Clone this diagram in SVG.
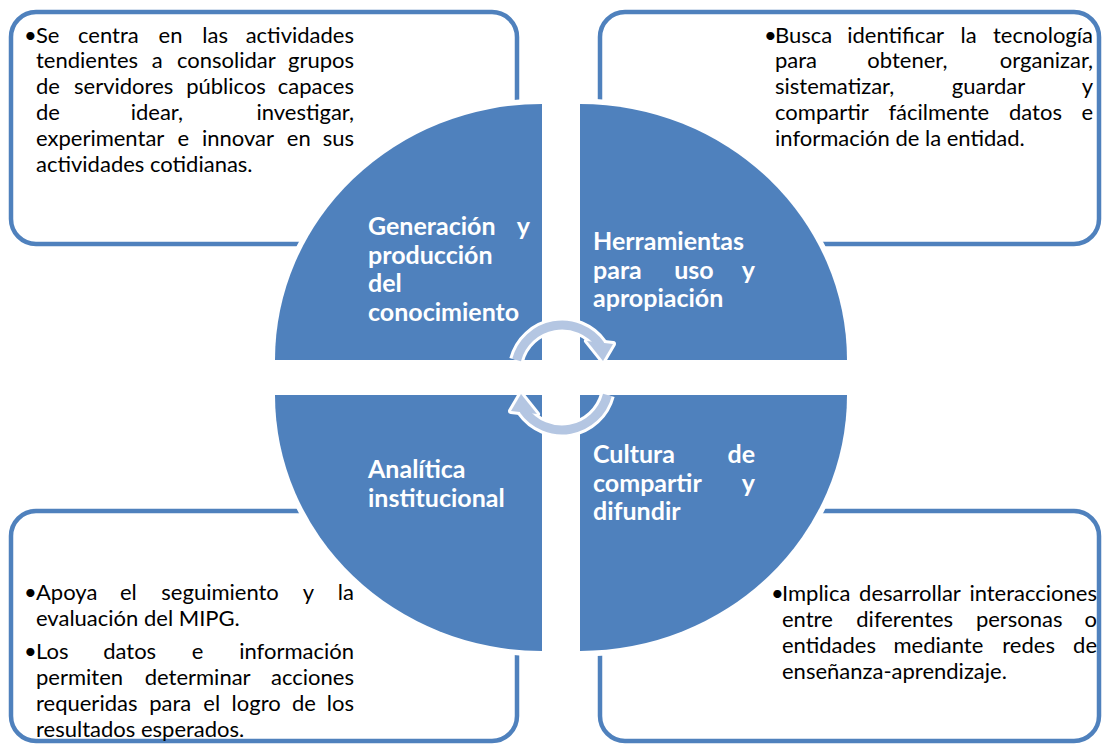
<svg xmlns="http://www.w3.org/2000/svg" width="1102" height="744" viewBox="0 0 1102 744">
  <style>
    .box { fill: #ffffff; stroke: #4F81BD; stroke-width: 4.5; }
    .quad { fill: #4F81BD; stroke: #ffffff; stroke-width: 11; paint-order: stroke; stroke-linejoin: miter; }
    .body { font-family: "Lato", "Carlito", "Liberation Sans", sans-serif; font-size: 22px; fill: #000000; }
    .title { font-family: "Lato", "Carlito", "Liberation Sans", sans-serif; font-size: 25px; font-weight: bold; fill: #ffffff; }
    .e { text-anchor: end; }
    .m { text-anchor: middle; }
    .ringOut { fill: none; stroke: #ffffff; stroke-width: 15; }
    .ringIn { fill: none; stroke: #B4C6E2; stroke-width: 9; }
    .headOut { fill: #ffffff; stroke: #ffffff; stroke-width: 6; stroke-linejoin: round; }
    .headIn { fill: #B4C6E2; }
  </style>
  <defs>
    <g id="arrowTop">
      <path class="ringOut" d="M516.6,360 A47,47 0 0 1 600.5,345"/>
      <polygon class="headOut" points="587,341 613,344 603,361"/>
      <path class="ringIn" d="M516.6,360 A47,47 0 0 1 600.5,345"/>
      <polygon class="headIn" points="587,341 613,344 603,361"/>
    </g>
  </defs>
  <rect width="1102" height="744" fill="#ffffff"/>

  <g id="box-tl">
    <rect class="box" x="11" y="12" width="506" height="232" rx="25" ry="25"/>
    <text class="body" x="24" y="42.5">•</text>
    <text class="body" y="42.5"><tspan x="36">Se</tspan><tspan x="78">centra</tspan><tspan x="158.6">en</tspan><tspan x="202.3">las</tspan></text>
    <text class="body e" x="354" y="42.5">actividades</text>
    <text class="body" y="68.3"><tspan x="36">tendientes</tspan><tspan x="151.7">a</tspan><tspan x="177">consolidar</tspan></text>
    <text class="body e" x="354" y="68.3">grupos</text>
    <text class="body" y="94.1"><tspan x="36">de</tspan><tspan x="74">servidores</tspan><tspan x="186.2">públicos</tspan></text>
    <text class="body e" x="354" y="94.1">capaces</text>
    <text class="body" y="119.9"><tspan x="36">de</tspan><tspan x="130.7">idear,</tspan></text>
    <text class="body e" x="354" y="119.9">investigar,</text>
    <text class="body" y="145.7"><tspan x="36">experimentar</tspan><tspan x="177.5">e</tspan><tspan x="202">innovar</tspan><tspan x="286.8">en</tspan></text>
    <text class="body e" x="354" y="145.7">sus</text>
    <text class="body" x="36" y="171.5">actividades cotidianas.</text>
  </g>

  <g id="box-tr">
    <rect class="box" x="600" y="12" width="499" height="232" rx="25" ry="25"/>
    <text class="body" x="764" y="42.5">•</text>
    <text class="body" y="42.5"><tspan x="775">Busca</tspan><tspan x="847.2">identificar</tspan><tspan x="960.5">la</tspan></text>
    <text class="body e" x="1093" y="42.5">tecnología</text>
    <text class="body" y="68.3"><tspan x="775">para</tspan><tspan x="867.3">obtener,</tspan></text>
    <text class="body e" x="1093" y="68.3">organizar,</text>
    <text class="body" y="94.1"><tspan x="775">sistematizar,</tspan><tspan x="951.8">guardar</tspan></text>
    <text class="body e" x="1093" y="94.1">y</text>
    <text class="body" y="119.9"><tspan x="775">compartir</tspan><tspan x="888.4">fácilmente</tspan><tspan x="1009">datos</tspan></text>
    <text class="body e" x="1093" y="119.9">e</text>
    <text class="body" x="775" y="145.7">información de la entidad.</text>
  </g>

  <g id="box-bl">
    <rect class="box" x="11" y="511" width="506" height="230" rx="25" ry="25"/>
    <text class="body" x="24" y="599.5">•</text>
    <text class="body" y="599.5"><tspan x="36">Apoya</tspan><tspan x="120">el</tspan><tspan x="161.3">seguimiento</tspan><tspan x="302.7">y</tspan></text>
    <text class="body e" x="354" y="599.5">la</text>
    <text class="body" x="36" y="625.5">evaluación del MIPG.</text>
    <text class="body" x="24" y="658.5">•</text>
    <text class="body" y="658.5"><tspan x="36">Los</tspan><tspan x="103.2">datos</tspan><tspan x="191.8">e</tspan></text>
    <text class="body e" x="354" y="658.5">información</text>
    <text class="body" y="684.5"><tspan x="36">permiten</tspan><tspan x="144.7">determinar</tspan></text>
    <text class="body e" x="354" y="684.5">acciones</text>
    <text class="body" y="710.5"><tspan x="36">requeridas</tspan><tspan x="149.2">para</tspan><tspan x="203.3">el</tspan><tspan x="231.6">logro</tspan><tspan x="292">de</tspan></text>
    <text class="body e" x="354" y="710.5">los</text>
    <text class="body" x="36" y="736.5">resultados esperados.</text>
  </g>

  <g id="box-br">
    <rect class="box" x="600" y="511" width="499" height="230" rx="25" ry="25"/>
    <text class="body" x="771" y="600.5">•</text>
    <text class="body" y="600.5"><tspan x="782">Implica</tspan><tspan x="859.1">desarrollar</tspan></text>
    <text class="body e" x="1097" y="600.5">interacciones</text>
    <text class="body" y="626.5"><tspan x="782">entre</tspan><tspan x="856.3">diferentes</tspan><tspan x="975.9">personas</tspan></text>
    <text class="body e" x="1097" y="626.5">o</text>
    <text class="body" y="652.5"><tspan x="782">entidades</tspan><tspan x="893.5">mediante</tspan><tspan x="1002.3">redes</tspan></text>
    <text class="body e" x="1097" y="652.5">de</text>
    <text class="body" x="782" y="678.5">enseñanza-aprendizaje.</text>
  </g>

  <g id="quad-tl">
    <path class="quad" d="M542,360 L275,360 A267,256 0 0 1 542,104 Z"/>
  </g>
  <g id="quad-tr">
    <path class="quad" d="M580,360 L580,104 A267,256 0 0 1 847,360 Z"/>
  </g>
  <g id="quad-bl">
    <path class="quad" d="M542,395 L542,651 A267,256 0 0 1 275,395 Z"/>
  </g>
  <g id="quad-br">
    <path class="quad" d="M580,395 L847,395 A267,256 0 0 1 580,651 Z"/>
  </g>

  <g id="connectors">
    <use href="#arrowTop"/>
    <use href="#arrowTop" transform="rotate(180 562 377.5)"/>
  </g>

  <g id="title-tl">
    <text class="title" x="368" y="235">Generación</text>
    <text class="title e" x="530" y="235">y</text>
    <text class="title" x="368" y="263.7">producción</text>
    <text class="title" x="368" y="292.4">del</text>
    <text class="title" x="368" y="321">conocimiento</text>
  </g>
  <g id="title-tr">
    <text class="title" x="593" y="250">Herramientas</text>
    <text class="title" x="593" y="278.7">para</text>
    <text class="title m" x="694" y="278.7">uso</text>
    <text class="title e" x="755" y="278.7">y</text>
    <text class="title" x="593" y="307.4">apropiación</text>
  </g>
  <g id="title-bl">
    <text class="title" x="368" y="478">Analítica</text>
    <text class="title" x="368" y="506.7">institucional</text>
  </g>
  <g id="title-br">
    <text class="title" x="593" y="463">Cultura</text>
    <text class="title e" x="755" y="463">de</text>
    <text class="title" x="593" y="491.7">compartir</text>
    <text class="title e" x="755" y="491.7">y</text>
    <text class="title" x="593" y="520.4">difundir</text>
  </g>
</svg>
